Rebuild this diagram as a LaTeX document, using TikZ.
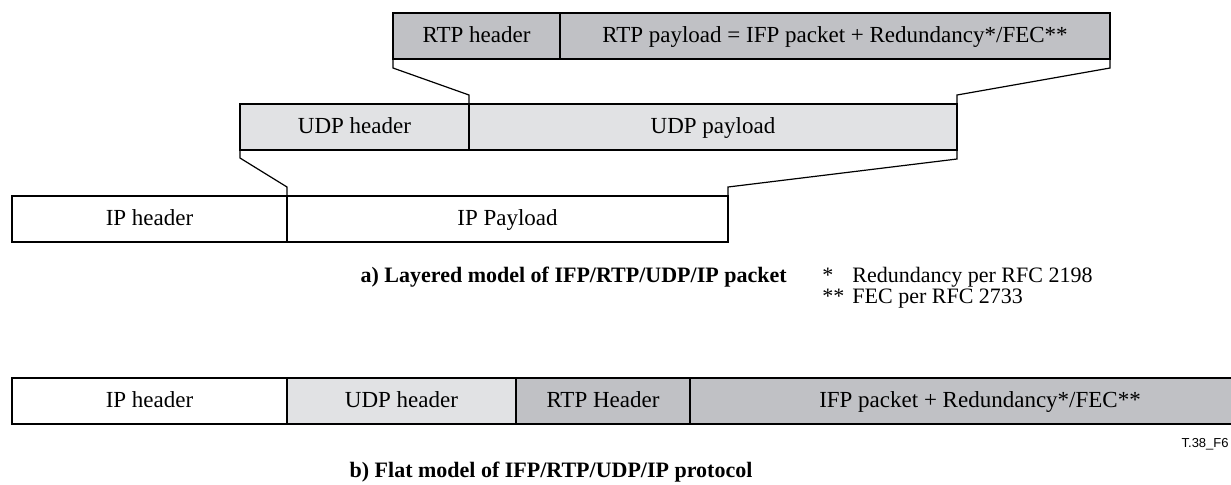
\documentclass[tikz,border=0pt]{standalone}
\usepackage{fontspec}
\setmainfont{Liberation Serif}
\newfontfamily\labelfont{Liberation Sans}
\usetikzlibrary{positioning,calc}
\definecolor{rtpgray}{RGB}{192,193,197}
\definecolor{udpgray}{RGB}{225,226,228}
\tikzset{field/.style={draw,line width=0.6pt,minimum height=23pt,inner sep=0pt,outer sep=0pt,text height=1.6ex,text depth=0.2ex,font=\fontsize{11.5}{13}\selectfont},
    rtp/.style={field,fill=rtpgray},
    udp/.style={field,fill=udpgray},
    ip/.style={field,fill=white},
    conn/.style={line width=0.6pt},
    caption/.style={inner sep=0pt,font=\bfseries\fontsize{11}{13}\selectfont},
    note/.style={inner sep=0pt,font=\fontsize{11}{13}\selectfont}}

\begin{document}
\begin{tikzpicture}[x=0.5pt,y=-0.5pt]
        \useasboundingbox (0,0) rectangle (1231,484);
        % a) layered model
        \node[rtp,minimum width=83.5pt,anchor=north west] (rtph) at (393,13) {RTP header};
        \node[rtp,minimum width=275pt,right=0pt of rtph] (rtpp) {RTP payload = IFP packet + Redundancy*/FEC**};
        \node[udp,minimum width=114.5pt,anchor=north west] (udph) at (240,104) {UDP header};
        \node[udp,minimum width=244pt,right=0pt of udph] (udpp) {UDP payload};
        \node[ip,minimum width=137.5pt,anchor=north west] (iph) at (12,196) {IP header};
        \node[ip,minimum width=220.5pt,right=0pt of iph] (ipp) {IP Payload};
        \draw[conn] (rtph.south west) -- ++(0,9) -- ($(udph.north east)+(0,-9)$) -- (udph.north east);
        \draw[conn] (rtpp.south east) -- ++(0,9) -- ($(udpp.north east)+(0,-9)$) -- (udpp.north east);
        \draw[conn] (udph.south west) -- ++(0,8) -- ($(iph.north east)+(0,-9)$) -- (iph.north east);
        \draw[conn] (udpp.south east) -- ++(0,9) -- ($(ipp.north east)+(0,-9)$) -- (ipp.north east);
        \node[caption,anchor=base east] (capa) at (787,282) {a) Layered model of IFP/RTP/UDP/IP packet};
        \node[note,anchor=base west] (stara) at (822,282) {*};
        \node[note,anchor=base west] (reda) at (852,282) {Redundancy per RFC 2198};
        \node[note,anchor=base west] (starb) at (822,303) {**};
        \node[note,anchor=base west] (fecb) at (852,303) {FEC per RFC 2733};
        % b) flat model
        \node[ip,minimum width=137.5pt,anchor=north west] (fip) at (12,378) {IP header};
        \node[udp,minimum width=114.5pt,right=0pt of fip] (fudp) {UDP header};
        \node[rtp,minimum width=87pt,right=0pt of fudp] (frtp) {RTP Header};
        \node[rtp,minimum width=290pt,right=0pt of frtp] (fpay) {IFP packet + Redundancy*/FEC**};
        \node[anchor=base east,inner sep=0pt,font=\labelfont\fontsize{6.5}{8}\selectfont] (figno) at (1229,447) {T.38\_F6};
        \node[caption,anchor=base] (capb) at (551,477) {b) Flat model of IFP/RTP/UDP/IP protocol};
    \end{tikzpicture}
\end{document}
